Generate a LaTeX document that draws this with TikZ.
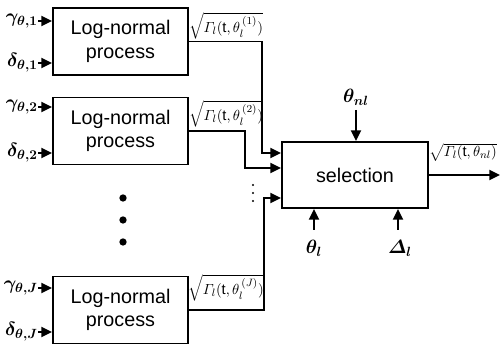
\documentclass[tikz,border=0pt]{standalone}
\usepackage{amsmath}
\usepackage{fontspec}
\setmainfont{Liberation Sans}
\usetikzlibrary{arrows.meta}

\tikzset{
  blk/.style={draw, line width=1.4pt, rectangle, inner sep=0pt,
    font=\fontsize{14.8}{17.5}\selectfont, align=center},
  lognorm/.style={blk, minimum width=101.25pt, minimum height=50.25pt},
  selbox/.style={blk, minimum width=109.5pt, minimum height=49.5pt},
  wire/.style={line width=1.4pt},
  arr/.style={wire, -{Triangle[length=8pt,width=7.5pt]}},
  sym/.style={inner sep=0pt, font=\fontsize{14}{16}\selectfont},
  sig/.style={inner sep=0pt, font=\fontsize{11}{13}\selectfont},
  bigdot/.style={circle, fill, inner sep=0pt, minimum size=5.5pt},
  smalldot/.style={circle, fill, inner sep=0pt, minimum size=1.8pt}
}

\begin{document}
\begin{tikzpicture}[x=0.75pt, y=-0.75pt]
  \useasboundingbox (0,0) rectangle (500,348);

  % process blocks
  \node[lognorm] (b1) at (120.5,41.5) {Log-normal\\process};
  \node[lognorm] (b2) at (120.5,131) {Log-normal\\process};
  \node[lognorm] (b3) at (120.5,310) {Log-normal\\process};
  \node[selbox] (sel) at (355,175) {selection};

  % parameter inputs of each block
  \foreach \b/\k/\yg/\yd in {b1/1/21/63, b2/2/107/153, b3/J/288/332} {
    \coordinate (g\b) at (38,\yg);
    \coordinate (d\b) at (38,\yd);
    \node[sym, anchor=east] (lg\b) at (g\b) {$\boldsymbol{\gamma_{\theta,\k}}$};
    \node[sym, anchor=east] (ld\b) at (d\b) {$\boldsymbol{\delta_{\theta,\k}}$};
    \draw[arr] (g\b) -- (g\b -| \b.west);
    \draw[arr] (d\b) -- (d\b -| \b.west);
  }

  % block output signals
  \node[sig] (s1) at (226,26) {$\sqrt{\varGamma_{l}(\mathrm{t},\theta_{l}^{\,(1)})}$};
  \node[sig] (s2) at (226,114) {$\sqrt{\varGamma_{l}(\mathrm{t},\theta_{l}^{\,(2)})}$};
  \node[sig] (s3) at (226,288) {$\sqrt{\varGamma_{l}(\mathrm{t},\theta_{l}^{\,(J)})}$};

  % routing into the selection block
  \coordinate (j1) at (262,153);
  \coordinate (j2) at (245,168);
  \coordinate (j3) at (264,198);
  \draw[arr] (b1.east) -| (j1) -- (j1 -| sel.west);
  \draw[arr] (b2.east) -| (j2) -- (j2 -| sel.west);
  \draw[arr] (b3.east) -| (j3) -- (j3 -| sel.west);

  % omitted blocks
  \node[bigdot] (d1) at (123,198) {};
  \node[bigdot] (d2) at (123,220) {};
  \node[bigdot] (d3) at (123,242) {};
  \node[smalldot] (e1) at (253,185) {};
  \node[smalldot] (e2) at (253,193) {};
  \node[smalldot] (e3) at (253,201) {};

  % control inputs of the selection block
  \coordinate (tnl) at (356,110);
  \coordinate (tl) at (314,230);
  \coordinate (dl) at (398,230);
  \node[sym, anchor=south] (ltnl) at (356,106) {$\boldsymbol{\theta_{nl}}$};
  \node[sym, anchor=north] (ltl) at (314,240) {$\boldsymbol{\theta_{l}}$};
  \node[sym, anchor=north] (ldl) at (400,240) {$\boldsymbol{\varDelta_{l}}$};
  \draw[arr] (tnl) -- (tnl |- sel.north);
  \draw[arr] (tl) -- (tl |- sel.south);
  \draw[arr] (dl) -- (dl |- sel.south);

  % output
  \coordinate (out) at (500,175);
  \draw[arr] (sel.east) -- (out);
  \node[sig] (sout) at (463,152) {$\sqrt{\varGamma_{l}(\mathrm{t},\theta_{nl})}$};
\end{tikzpicture}
\end{document}
